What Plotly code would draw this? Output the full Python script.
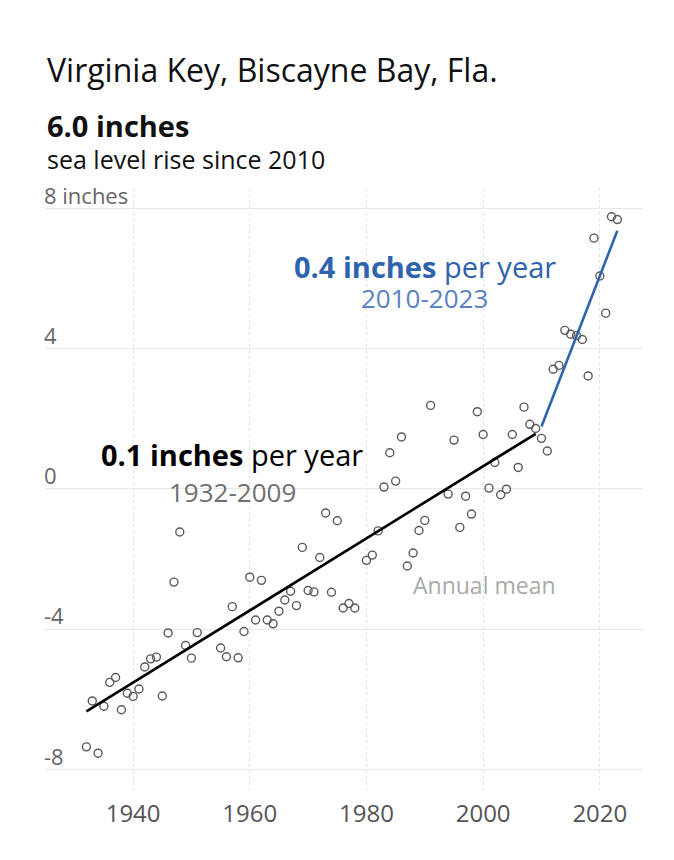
import plotly.graph_objects as go

# ---- data ----
years = [1932, 1933, 1934, 1935, 1936, 1937, 1938, 1939, 1940, 1941, 1942, 1943, 1944, 1945,
         1946, 1947, 1948, 1949, 1950, 1951, 1955, 1956, 1957, 1958, 1959, 1960, 1961, 1962,
         1963, 1964, 1965, 1966, 1967, 1968, 1969, 1970, 1971, 1972, 1973, 1974, 1975, 1976,
         1977, 1978, 1980, 1981, 1982, 1983, 1984, 1985, 1986, 1987, 1988, 1989, 1990, 1991,
         1994, 1995, 1996, 1997, 1998, 1999, 2000, 2001, 2002, 2003, 2004, 2005, 2006, 2007,
         2008, 2009, 2010, 2011, 2012, 2013, 2014, 2015, 2016, 2017, 2018, 2019, 2020, 2021,
         2022, 2023]
annual_mean = [-7.36, -6.05, -7.54, -6.20, -5.52, -5.38, -6.30, -5.83, -5.92, -5.71, -5.08, -4.85,
               -4.80, -5.91, -4.11, -2.66, -1.23, -4.47, -4.83, -4.10, -4.54, -4.79, -3.36, -4.82,
               -4.07, -2.52, -3.74, -2.61, -3.74, -3.85, -3.49, -3.17, -2.92, -3.33, -1.67, -2.90,
               -2.94, -1.96, -0.69, -2.95, -0.91, -3.40, -3.27, -3.40, -2.04, -1.89, -1.20, 0.05,
               1.03, 0.22, 1.48, -2.20, -1.83, -1.19, -0.90, 2.38, -0.15, 1.39, -1.10, -0.21,
               -0.72, 2.20, 1.55, 0.02, 0.75, -0.17, -0.01, 1.55, 0.61, 2.33, 1.84, 1.72, 1.44,
               1.08, 3.41, 3.52, 4.52, 4.41, 4.37, 4.26, 3.22, 7.15, 6.07, 5.01, 7.76, 7.68]

trend_early_years = [1932, 2009]
trend_early_vals = [-6.35, 1.57]
trend_late_years = [2010, 2023]
trend_late_vals = [1.78, 7.36]

x_tickvals = [1940, 1960, 1980, 2000, 2020]
x_ticktext = ["1940", "1960", "1980", "2000", "2020"]
y_tickvals = [-8, -4, 0, 4, 8]
y_ticktext = ["-8", "-4", "0", "4", "8 inches"]

FONT = "Open Sans"
BLUE = "#2f63ad"

fig = go.Figure()
fig.add_trace(go.Scatter(
    x=years, y=annual_mean, mode="markers",
    marker=dict(symbol="circle-open", size=8, color="#5a5a5a", line=dict(width=1.4)),
    hoverinfo="x+y", showlegend=False))
fig.add_trace(go.Scatter(
    x=trend_early_years, y=trend_early_vals, mode="lines",
    line=dict(color="#000000", width=2.6), showlegend=False))
fig.add_trace(go.Scatter(
    x=trend_late_years, y=trend_late_vals, mode="lines",
    line=dict(color=BLUE, width=2.6), showlegend=False))

# page offsets (browser body margin = 8px)
OFF = 8
P_TOP, P_BOT = 188, 790   # plot area top/bottom in page pixels
P_LEFT, P_RIGHT = 45, 643
W, H = 674, 860


def py(p):
    return (P_BOT - p) / (P_BOT - P_TOP)


annotations = [
    dict(text="Virginia Key, Biscayne Bay, Fla.", xref="paper", yref="paper",
         x=0, y=py(70), xanchor="left", yanchor="middle", showarrow=False,
         font=dict(family=FONT, size=32, color="#111111")),
    dict(text="<b>6.0 inches</b>", xref="paper", yref="paper",
         x=0, y=py(125), xanchor="left", yanchor="middle", showarrow=False,
         font=dict(family=FONT, size=29, color="#111111")),
    dict(text="sea level rise since 2010", xref="paper", yref="paper",
         x=0, y=py(159), xanchor="left", yanchor="middle", showarrow=False,
         font=dict(family=FONT, size=25, color="#111111")),
    dict(text="<b>0.1 inches</b> per year", xref="x", yref="y",
         x=1957, y=0.97, xanchor="center", yanchor="middle", showarrow=False,
         font=dict(family=FONT, size=29, color="#000000")),
    dict(text="1932-2009", xref="x", yref="y",
         x=1957, y=-0.08, xanchor="center", yanchor="middle", showarrow=False,
         font=dict(family=FONT, size=26, color="#707070")),
    dict(text="<b>0.4 inches</b> per year", xref="x", yref="y",
         x=1990, y=6.34, xanchor="center", yanchor="middle", showarrow=False,
         font=dict(family=FONT, size=29, color=BLUE)),
    dict(text="2010-2023", xref="x", yref="y",
         x=1990, y=5.45, xanchor="center", yanchor="middle", showarrow=False,
         font=dict(family=FONT, size=26, color="#5a82c2")),
    dict(text="Annual mean", xref="x", yref="y",
         x=2000.3, y=-2.75, xanchor="center", yanchor="middle", showarrow=False,
         font=dict(family=FONT, size=23, color="#aaaaaa")),
]

fig.update_layout(
    width=W, height=H,
    margin=dict(l=P_LEFT - OFF, r=W - (P_RIGHT - OFF), t=P_TOP - OFF, b=H - (P_BOT - OFF)),
    paper_bgcolor="white", plot_bgcolor="white",
    font=dict(family=FONT),
    annotations=annotations,
    xaxis=dict(range=[1924.9, 2027.4], tickvals=x_tickvals, ticktext=x_ticktext,
               showgrid=True, gridcolor="#e2e2e2", griddash="dot", gridwidth=1,
               zeroline=False, showline=False, ticks="",
               tickfont=dict(family=FONT, size=24, color="#555555"),
               ticklabelstandoff=7),
    yaxis=dict(range=[-8.59, 8.58], tickvals=y_tickvals, ticktext=y_ticktext,
               showgrid=True, gridcolor="#e8e8e8", gridwidth=1,
               zeroline=False, showline=False, ticks="",
               ticklabelposition="inside top", ticklabeloverflow="allow",
               ticklabelshift=3, ticklabelstandoff=-4,
               tickfont=dict(family=FONT, size=22, color="#666666")),
)

fig.write_html("out.html")
